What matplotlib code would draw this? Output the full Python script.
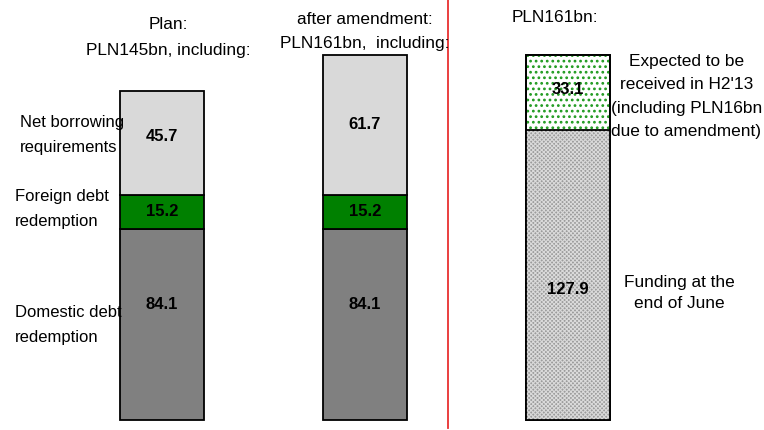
import matplotlib.pyplot as plt
import numpy as np

plt.rcParams['font.family'] = ['Liberation Sans', 'DejaVu Sans']

# stacked values (PLN bn)
domestic = [84.1, 84.1]
foreign = [15.2, 15.2]
net_borrowing = [45.7, 61.7]
funded = 127.9
expected = 33.1

titles = ['Plan:\nPLN145bn, including:', 'after amendment:\nPLN161bn,  including:', 'PLN161bn:']
left_labels = ['Net borrowing\nrequirements', 'Foreign debt\nredemption', 'Domestic debt\nredemption']
right_labels = ["Expected to be\nreceived in H2'13\n(including PLN16bn\ndue to amendment)", 'Funding at the\nend of June']

fig = plt.figure(figsize=(7.64, 4.30), dpi=100)
ax = fig.add_axes([0, 0, 1, 1])
ax.set_xlim(-162 / 203, (764 - 162) / 203)
ax.set_ylim(-10 / 2.27, 420 / 2.27)
ax.axis('off')

fs = 12.4
bold = dict(fontsize=12, fontweight='bold', ha='center', va='center', zorder=5)
w = 0.414
x = np.array([0, 1])
bot = np.array(domestic)
ax.bar(x, domestic, w, color='#808080', edgecolor='black', linewidth=1.3, zorder=3)
ax.bar(x, foreign, w, bottom=bot, color='#008000', edgecolor='black', linewidth=1.3, zorder=3)
bot2 = bot + np.array(foreign)
ax.bar(x, net_borrowing, w, bottom=bot2, color='#d9d9d9', edgecolor='black', linewidth=1.3, zorder=3)

# value labels (label y positions picked to match the original)
dom_y = [51, 51]
for_y = [bot[0] + foreign[0] / 2, bot[1] + foreign[1] / 2]
net_y = [124.7, 130]
for i in range(2):
    ax.text(x[i], dom_y[i], f'{domestic[i]}', **bold)
    ax.text(x[i], for_y[i], f'{foreign[i]}', **bold)
    ax.text(x[i], net_y[i], f'{net_borrowing[i]}', **bold)

# third bar: funding, hatched
plt.rcParams['hatch.linewidth'] = 0.8
ax.bar(2, funded, w, color='#9c9c9c', edgecolor='black', linewidth=1.3, zorder=3)
ax.bar(2, funded, w, color='none', edgecolor='#dadada', hatch='xxxxxxxx', linewidth=0, zorder=3)
plt.rcParams['hatch.linewidth'] = 1.2
ax.bar(2, expected, w, bottom=funded, color='white', edgecolor='black', linewidth=1.3, zorder=3)
ax.bar(2, expected, w, bottom=funded, color='none', edgecolor='#1f9a1f', hatch='...', linewidth=0, zorder=3)
ax.bar(2, funded + expected, w, color='none', edgecolor='black', linewidth=1.3, zorder=4)
ax.text(2, 57.3, f'{funded}', **bold)
ax.text(2, 145.4, f'{expected}', **bold)

# red divider
ax.axvline((448 - 162) / 203, ymin=2 / 430, ymax=1, color='#e83030', linewidth=1.3)

# titles
ax.text(0.03, 168.5, titles[0], ha='center', va='center', fontsize=fs, linespacing=1.85)
ax.text(1.0, 171.1, titles[1], ha='center', va='center', fontsize=fs, linespacing=1.7)
ax.text(1.936, 177.1, titles[2], ha='center', va='center', fontsize=fs)

# left side labels
ax.text(-0.70, 125.6, left_labels[0], ha='left', va='center', fontsize=12, linespacing=1.85, zorder=4.5)
ax.text(-0.725, 93.0, left_labels[1], ha='left', va='center', fontsize=12, linespacing=1.85, zorder=4.5)
ax.text(-0.725, 41.9, left_labels[2], ha='left', va='center', fontsize=12, linespacing=1.85, zorder=4.5)

# right side labels
ax.text(2.583, 142.5, right_labels[0], ha='center', va='center', fontsize=fs, linespacing=1.68)
ax.text(2.55, 55.9, right_labels[1], ha='center', va='center', fontsize=fs, linespacing=1.5)

fig.savefig('out.png', dpi=100)
